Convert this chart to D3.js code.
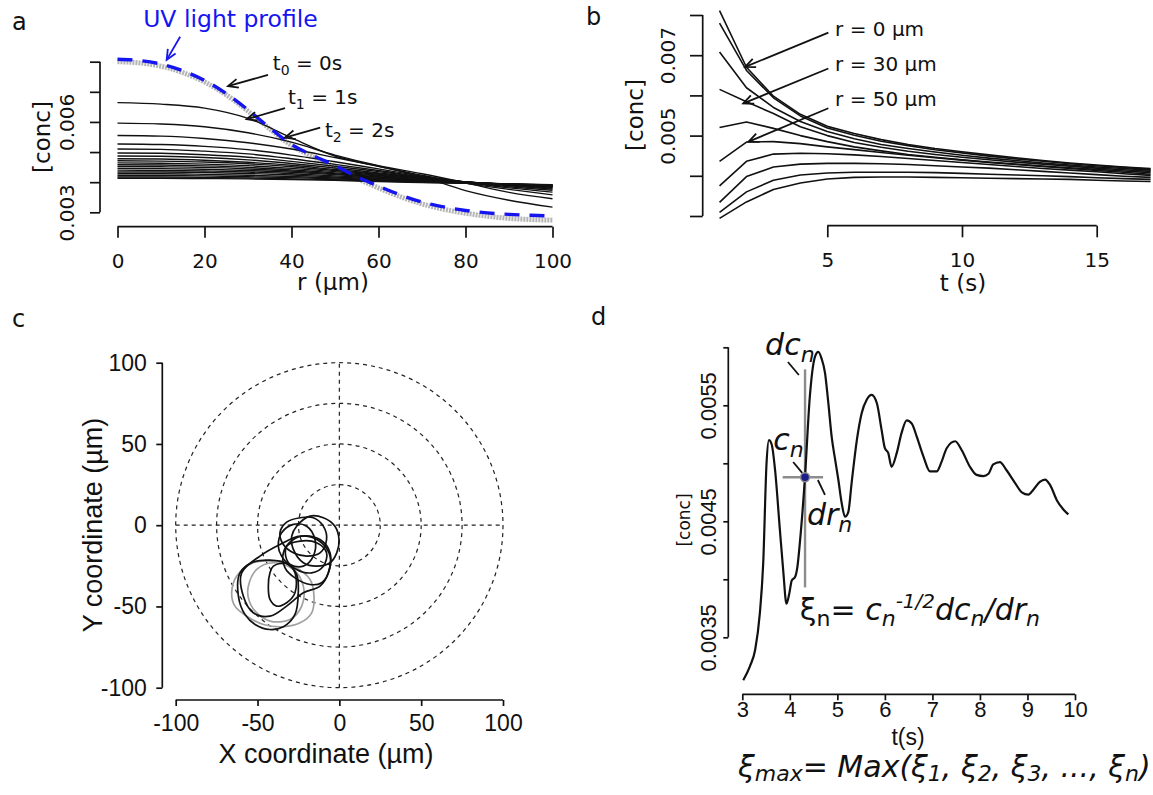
<!DOCTYPE html>
<html>
<head>
<meta charset="utf-8">
<script src="https://cdn.jsdelivr.net/npm/d3@7"></script>
<style>
  body { margin: 0; background: #fff; }
  svg { display: block; }
</style>
</head>
<body>
<div id="fig"></div>
<script>
// ---------- panel a : radial profiles ----------
var aRadiusFine = [0,5,10,15,20,25,30,35,40,45,50,55,60,65,70,75,80,85,90,95,100];
var aUvProfile = [0.00808,0.00804,0.00792,0.00770,0.00738,0.00694,0.00640,0.00580,0.00525,0.00488,0.00455,
                  0.00418,0.00387,0.00358,0.00334,0.00318,0.00306,0.00298,0.00293,0.00290,0.00288];
var aStartProfile = [0.00800,0.00796,0.00785,0.00764,0.00733,0.00690,0.00636,0.00577,0.00522,0.00484,0.00450,
                     0.00413,0.00381,0.00352,0.00328,0.00310,0.00297,0.00287,0.00280,0.00276,0.00274];
var aRadius = [0,10,20,30,40,50,60,70,80,90,100];
var aProfiles = [
  [0.00664,0.00659,0.00646,0.00612,0.00547,0.00487,0.00453,0.00418,0.00372,0.00340,0.00317],
  [0.00596,0.00593,0.00584,0.00564,0.00533,0.00490,0.00455,0.00428,0.00398,0.00366,0.00345],
  [0.00555,0.00553,0.00545,0.00531,0.00510,0.00482,0.00453,0.00423,0.00397,0.00376,0.00358],
  [0.00527,0.00525,0.00519,0.00508,0.00490,0.00468,0.00444,0.00420,0.00399,0.00381,0.00367],
  [0.00510,0.00509,0.00503,0.00494,0.00478,0.00459,0.00439,0.00418,0.00400,0.00385,0.00373],
  [0.00497,0.00496,0.00491,0.00483,0.00469,0.00453,0.00435,0.00417,0.00401,0.00388,0.00377],
  [0.00487,0.00486,0.00482,0.00474,0.00462,0.00447,0.00431,0.00415,0.00401,0.00390,0.00380],
  [0.00478,0.00477,0.00473,0.00466,0.00456,0.00442,0.00428,0.00414,0.00401,0.00391,0.00382],
  [0.00471,0.00470,0.00467,0.00461,0.00451,0.00439,0.00426,0.00413,0.00401,0.00392,0.00384],
  [0.00464,0.00463,0.00460,0.00455,0.00446,0.00435,0.00423,0.00411,0.00401,0.00392,0.00385],
  [0.00458,0.00457,0.00454,0.00449,0.00441,0.00431,0.00421,0.00410,0.00400,0.00392,0.00386],
  [0.00452,0.00451,0.00449,0.00444,0.00437,0.00428,0.00418,0.00408,0.00400,0.00393,0.00387],
  [0.00446,0.00445,0.00443,0.00439,0.00433,0.00425,0.00416,0.00407,0.00400,0.00393,0.00388],
  [0.00440,0.00439,0.00437,0.00434,0.00428,0.00421,0.00413,0.00406,0.00399,0.00394,0.00389],
  [0.00434,0.00434,0.00432,0.00429,0.00424,0.00417,0.00411,0.00404,0.00398,0.00393,0.00389],
  [0.00428,0.00428,0.00426,0.00423,0.00419,0.00414,0.00408,0.00403,0.00398,0.00393,0.00390],
  [0.00422,0.00422,0.00421,0.00418,0.00415,0.00411,0.00406,0.00401,0.00397,0.00394,0.00391],
  [0.00417,0.00417,0.00416,0.00414,0.00411,0.00408,0.00404,0.00400,0.00396,0.00393,0.00391],
  [0.00413,0.00413,0.00412,0.00411,0.00409,0.00406,0.00402,0.00399,0.00396,0.00394,0.00392]
];
var aXTicks = [0,20,40,60,80,100];
var aYTicks = [0.003,0.004,0.005,0.006,0.007,0.008];
var aYLabelled = [0.003,0.006];

// ---------- panel b : time courses ----------
var bTime = [1,2,3,4,5,6,7,8,9,10,11,12,13,14,15,16,17];
var bSeries = [
  [0.00811,0.00670,0.00598,0.00553,0.00523,0.00505,0.00490,0.00478,0.00468,0.00460,0.00452,0.00445,0.00438,0.00432,0.00427,0.00422,0.00418],
  [0.00780,0.00662,0.00594,0.00549,0.00519,0.00501,0.00486,0.00475,0.00465,0.00457,0.00449,0.00442,0.00436,0.00430,0.00425,0.00421,0.00416],
  [0.00708,0.00619,0.00570,0.00535,0.00510,0.00492,0.00478,0.00468,0.00459,0.00451,0.00444,0.00438,0.00432,0.00427,0.00422,0.00418,0.00414],
  [0.00615,0.00584,0.00555,0.00522,0.00500,0.00483,0.00471,0.00461,0.00453,0.00446,0.00440,0.00434,0.00429,0.00424,0.00419,0.00415,0.00411],
  [0.00520,0.00534,0.00518,0.00500,0.00485,0.00472,0.00462,0.00453,0.00446,0.00440,0.00434,0.00429,0.00424,0.00420,0.00416,0.00412,0.00408],
  [0.00436,0.00484,0.00485,0.00480,0.00472,0.00465,0.00458,0.00451,0.00445,0.00439,0.00433,0.00428,0.00423,0.00418,0.00413,0.00409,0.00404],
  [0.00375,0.00436,0.00454,0.00456,0.00455,0.00452,0.00448,0.00443,0.00438,0.00433,0.00428,0.00423,0.00418,0.00414,0.00410,0.00405,0.00401],
  [0.00334,0.00398,0.00422,0.00429,0.00431,0.00431,0.00430,0.00428,0.00425,0.00422,0.00419,0.00415,0.00411,0.00407,0.00403,0.00399,0.00396],
  [0.00309,0.00360,0.00389,0.00402,0.00407,0.00409,0.00409,0.00409,0.00408,0.00406,0.00404,0.00402,0.00400,0.00398,0.00395,0.00393,0.00391],
  [0.00294,0.00335,0.00366,0.00382,0.00392,0.00396,0.00397,0.00397,0.00396,0.00395,0.00394,0.00393,0.00392,0.00391,0.00389,0.00387,0.00386]
];
var bXTicks = [5,10,15];
var bYTicks = [0.003,0.004,0.005,0.006,0.007,0.008];
var bYLabelled = [0.005,0.007];

// ---------- panel c : trajectories (x, y in µm) ----------
var cLoopsBlack = [
  [[-60.7,-29.3],[-52.6,-22.7],[-42.4,-21.5],[-32.2,-23.5],[-26.1,-30.3],[-25.1,-41.6],[-27.1,-54.9],[-34.2,-62.5],[-42.4,-64.2],[-51.5,-61.1],[-57.7,-54.9],[-61.7,-43.6]],
  [[-40.3,-25.2],[-32.2,-23.5],[-27.1,-29.3],[-27.1,-41.6],[-32.2,-47.7],[-38.3,-49.8],[-42.4,-45.7],[-43.4,-37.5],[-42.4,-29.3]],
  [[-59.7,-29.3],[-48.5,-19.0],[-36.3,-11.9],[-24.0,-6.7],[-11.8,-8.8],[-5.7,-17.0],[-6.7,-29.3],[-11.8,-37.5],[-22.0,-41.6],[-32.2,-49.8],[-42.4,-56.0],[-52.6,-53.9],[-58.7,-43.6]],
  [[-36.3,-4.7],[-32.2,1.9],[-24.0,4.6],[-15.9,4.6],[-9.8,-0.6],[-7.8,-8.8],[-11.8,-17.0],[-20.0,-19.0],[-28.1,-17.0],[-34.2,-11.9]],
  [[-26.1,-0.6],[-17.9,5.6],[-9.8,4.6],[-2.7,-0.6],[-0.2,-8.8],[-1.6,-17.0],[-5.7,-23.1],[-13.9,-25.2],[-22.0,-23.1],[-28.1,-14.9],[-29.1,-6.7]],
  [[-34.2,-17.0],[-28.1,-8.8],[-20.0,-6.7],[-10.8,-10.8],[-5.7,-19.0],[-6.7,-29.3],[-10.8,-35.4],[-17.9,-36.5],[-27.1,-32.4],[-33.2,-26.2]],
  [[-32.2,-12.9],[-24.0,-9.8],[-13.9,-10.8],[-7.8,-17.0],[-9.8,-25.2],[-16.9,-29.3],[-26.1,-27.2],[-32.2,-21.1]],
  [[-37.3,-12.9],[-35.3,-4.7],[-28.1,0.5],[-20.0,-0.6],[-14.9,-8.8],[-15.9,-19.0],[-22.0,-25.2],[-30.2,-24.2],[-35.3,-19.0]]
];
var cLoopsGrey = [
  [[-65.8,-41.6],[-62.7,-31.3],[-52.6,-23.1],[-40.3,-22.1],[-28.1,-25.2],[-17.9,-33.4],[-15.5,-43.6],[-16.9,-53.9],[-24.0,-60.1],[-34.2,-62.5],[-46.4,-61.1],[-56.6,-56.0],[-63.8,-49.8]],
  [[-55.6,-37.5],[-50.5,-27.2],[-40.3,-23.1],[-28.1,-27.2],[-22.0,-37.5],[-23.0,-49.8],[-30.2,-58.0],[-42.4,-59.0],[-51.5,-52.9],[-55.6,-44.7]]
];
var cRings = [25,50,75,100];
var cTicks = [-100,-50,0,50,100];

// ---------- panel d : single trace ----------
var dTime = [3.02,3.16,3.27,3.37,3.44,3.51,3.56,3.62,3.69,3.79,3.86,3.93,3.99,4.04,4.11,4.16,4.21,4.32,4.42,4.53,
             4.60,4.67,4.74,4.81,4.88,4.95,5.02,5.09,5.16,5.23,5.30,5.41,5.51,5.62,5.72,5.83,5.93,6.00,6.07,6.14,
             6.25,6.35,6.46,6.57,6.67,6.81,6.95,7.09,7.19,7.30,7.48,7.62,7.79,7.93,8.07,8.18,8.28,8.42,8.56,8.74,
             8.88,9.02,9.12,9.26,9.37,9.48,9.62,9.76,9.86];
var dConc = [0.00313,0.00325,0.00339,0.00371,0.00414,0.00500,0.00520,0.00516,0.00494,0.00443,0.00408,0.00379,0.00388,0.00399,0.00402,0.00411,0.00431,0.00489,0.00557,0.00592,
             0.00596,0.00590,0.00578,0.00552,0.00523,0.00504,0.00486,0.00466,0.00454,0.00458,0.00483,0.00520,0.00543,0.00555,0.00559,0.00552,0.00529,0.00513,0.00509,0.00497,
             0.00509,0.00526,0.00537,0.00534,0.00523,0.00506,0.00493,0.00493,0.00501,0.00513,0.00519,0.00511,0.00497,0.00490,0.00489,0.00491,0.00499,0.00501,0.00494,0.00483,
             0.00475,0.00473,0.00477,0.00484,0.00486,0.00481,0.00468,0.00460,0.00456];
var dXTicks = [3,4,5,6,7,8,9,10];
var dYTicks = [0.0035,0.0040,0.0045,0.0050,0.0055,0.0060];
var dYLabelled = [0.0035,0.0045,0.0055];
var dPoint = [4.32, 0.00488];

var INK = '#111';
var SANS = 'DejaVu Sans';
var ARIAL = 'Liberation Sans';

var svg = d3.select('#fig').append('svg')
  .attr('width', 1153)
  .attr('height', 795)
  .style('background', '#ffffff');

function has(list, v) {
  return list.some(function(d) { return Math.abs(d - v) < 1e-9; });
}

// R-like axis: line only from first to last tick, outward ticks
function rAxis(sel, axis, scale, ticks, vertical) {
  sel.call(axis);
  sel.select('.domain').remove();
  var a = scale(ticks[0]), b = scale(ticks[ticks.length - 1]);
  sel.append('line')
    .attr('x1', vertical ? 0 : a).attr('x2', vertical ? 0 : b)
    .attr('y1', vertical ? a : 0).attr('y2', vertical ? b : 0);
  sel.selectAll('line').attr('stroke', INK).attr('stroke-width', 1.7);
  sel.selectAll('text').attr('fill', INK);
  return sel;
}

function rotateLabels(sel, offset) {
  sel.selectAll('.tick text')
    .attr('transform', 'rotate(-90)')
    .attr('x', 0).attr('y', -offset).attr('dy', 0)
    .attr('text-anchor', 'middle');
}

function arrow(g, x1, y1, x2, y2, color) {
  var ang = Math.atan2(y2 - y1, x2 - x1), L = 11, s = 0.42;
  g.append('line')
    .attr('x1', x1).attr('y1', y1).attr('x2', x2).attr('y2', y2)
    .attr('stroke', color).attr('stroke-width', 1.8);
  g.append('path')
    .attr('d', 'M' + (x2 - L * Math.cos(ang - s)) + ',' + (y2 - L * Math.sin(ang - s)) +
               'L' + x2 + ',' + y2 +
               'L' + (x2 - L * Math.cos(ang + s)) + ',' + (y2 - L * Math.sin(ang + s)))
    .attr('fill', 'none').attr('stroke', color).attr('stroke-width', 1.8);
}

function panelLetter(x, y, t) {
  svg.append('text').attr('x', x).attr('y', y)
    .style('font', '24px "' + SANS + '"').attr('fill', INK).text(t);
}

// ================= panel a =================
(function() {
  var x = d3.scaleLinear().domain([0, 100]).range([117.5, 552.5]);
  var y = d3.scaleLinear().domain([0.003, 0.008]).range([212.3, 61.7]);
  var g = svg.append('g');

  var line = d3.line().curve(d3.curveMonotoneX)
    .x(function(d) { return x(d[0]); })
    .y(function(d) { return y(d[1]); });

  g.append('path')
    .datum(aRadiusFine.map(function(r, i) { return [r, aStartProfile[i]]; }))
    .attr('d', line).attr('fill', 'none')
    .attr('stroke', '#b4b4b4').attr('stroke-width', 5)
    .attr('stroke-dasharray', '2,1');

  g.selectAll('.prof').data(aProfiles).enter().append('path')
    .attr('d', function(p) { return line(aRadius.map(function(r, i) { return [r, p[i]]; })); })
    .attr('fill', 'none').attr('stroke', INK).attr('stroke-width', 1.4);

  g.append('path')
    .datum(aRadiusFine.map(function(r, i) { return [r, aUvProfile[i]]; }))
    .attr('d', line).attr('fill', 'none')
    .attr('stroke', '#1515f0').attr('stroke-width', 3.4)
    .attr('stroke-dasharray', '15,10');

  var xa = g.append('g').attr('transform', 'translate(0,226.7)')
    .style('font', '20px "' + SANS + '"');
  rAxis(xa, d3.axisBottom(x).tickValues(aXTicks).tickSize(11).tickPadding(16), x, aXTicks, false);

  var ya = g.append('g').attr('transform', 'translate(100,0)')
    .style('font', '20px "' + SANS + '"');
  rAxis(ya, d3.axisLeft(y).tickValues(aYTicks).tickSize(10)
    .tickFormat(function(d) { return has(aYLabelled, d) ? d3.format('.3f')(d) : ''; }), y, aYTicks, true);
  rotateLabels(ya, 26);

  g.append('text').attr('transform', 'translate(50,137) rotate(-90)')
    .attr('text-anchor', 'middle').style('font', '23px "' + SANS + '"').attr('fill', INK).text('[conc]');
  g.append('text').attr('x', 333).attr('y', 290)
    .attr('text-anchor', 'middle').style('font', '23px "' + SANS + '"').attr('fill', INK).text('r (µm)');

  // UV annotation
  g.append('text').attr('x', x(5.9)).attr('y', y(0.00916))
    .style('font', '23.5px "' + SANS + '"').attr('fill', '#1515f0').text('UV light profile');
  arrow(g, x(14.4), y(0.00883), x(11.3), y(0.00806), '#1515f0');

  var notes = [
    { sub: '0', val: '0s', tx: 35.7, ty: 0.00772, from: [34.6, 0.00756], to: [25.4, 0.00719] },
    { sub: '1', val: '1s', tx: 39.2, ty: 0.00659, from: [38.5, 0.00646], to: [29.7, 0.00609] },
    { sub: '2', val: '2s', tx: 47.7, ty: 0.00550, from: [46.6, 0.00581], to: [38.5, 0.00548] }
  ];
  notes.forEach(function(n) {
    var t = g.append('text').attr('x', x(n.tx)).attr('y', y(n.ty))
      .style('font', '20px "' + SANS + '"').attr('fill', INK);
    t.append('tspan').text('t');
    t.append('tspan').attr('dy', 5).style('font-size', '14px').text(n.sub);
    t.append('tspan').attr('dy', -5).text(' = ' + n.val);
    arrow(g, x(n.from[0]), y(n.from[1]), x(n.to[0]), y(n.to[1]), INK);
  });

  panelLetter(12, 30, 'a');
})();

// ================= panel b =================
(function() {
  var x = d3.scaleLinear().domain([5, 15]).range([827.3, 1096.7]);
  var y = d3.scaleLinear().domain([0.003, 0.008]).range([216, 15]);
  var g = svg.append('g');

  var line = d3.line()
    .x(function(d) { return x(d[0]); })
    .y(function(d) { return y(d[1]); });

  g.selectAll('.ser').data(bSeries).enter().append('path')
    .attr('d', function(s) { return line(bTime.map(function(t, i) { return [t, s[i]]; })); })
    .attr('fill', 'none').attr('stroke', INK).attr('stroke-width', 1.6)
    .attr('stroke-linejoin', 'round');

  var xa = g.append('g').attr('transform', 'translate(0,225.7)')
    .style('font', '20px "' + SANS + '"');
  rAxis(xa, d3.axisBottom(x).tickValues(bXTicks).tickSize(11.6).tickPadding(15.5), x, bXTicks, false);

  var ya = g.append('g').attr('transform', 'translate(702.7,0)')
    .style('font', '20px "' + SANS + '"');
  rAxis(ya, d3.axisLeft(y).tickValues(bYTicks).tickSize(12.7)
    .tickFormat(function(d) { return has(bYLabelled, d) ? d3.format('.3f')(d) : ''; }), y, bYTicks, true);
  rotateLabels(ya, 28);

  g.append('text').attr('transform', 'translate(643,115) rotate(-90)')
    .attr('text-anchor', 'middle').style('font', '23px "' + SANS + '"').attr('fill', INK).text('[conc]');
  g.append('text').attr('x', 963).attr('y', 291)
    .attr('text-anchor', 'middle').style('font', '23px "' + SANS + '"').attr('fill', INK).text('t (s)');

  var notes = [
    { label: 'r = 0 µm',  ty: 0.00748, from: [5.04, 0.00756], to: [1.95, 0.00671] },
    { label: 'r = 30 µm', ty: 0.00661, from: [5.04, 0.00667], to: [1.88, 0.00580] },
    { label: 'r = 50 µm', ty: 0.00574, from: [5.04, 0.00568], to: [2.08, 0.00485] }
  ];
  notes.forEach(function(n) {
    g.append('text').attr('x', x(5.29)).attr('y', y(n.ty))
      .style('font', '20px "' + SANS + '"').attr('fill', INK).text(n.label);
    arrow(g, x(n.from[0]), y(n.from[1]), x(n.to[0]), y(n.to[1]), INK);
  });

  panelLetter(586, 25, 'b');
})();

// ================= panel c =================
(function() {
  var x = d3.scaleLinear().domain([-100, 100]).range([175.7, 503]);
  var y = d3.scaleLinear().domain([-100, 100]).range([687.7, 362.7]);
  var g = svg.append('g');

  g.selectAll('.ring').data(cRings).enter().append('ellipse')
    .attr('cx', x(0)).attr('cy', y(0))
    .attr('rx', function(r) { return x(r) - x(0); })
    .attr('ry', function(r) { return y(0) - y(r); })
    .attr('fill', 'none').attr('stroke', '#222').attr('stroke-width', 1.2)
    .attr('stroke-dasharray', '4,4');
  g.append('line').attr('x1', x(-100)).attr('x2', x(100)).attr('y1', y(0)).attr('y2', y(0))
    .attr('stroke', '#222').attr('stroke-width', 1.2).attr('stroke-dasharray', '4,4');
  g.append('line').attr('x1', x(0)).attr('x2', x(0)).attr('y1', y(-100)).attr('y2', y(100))
    .attr('stroke', '#222').attr('stroke-width', 1.2).attr('stroke-dasharray', '4,4');

  var loop = d3.line().curve(d3.curveCatmullRomClosed.alpha(0.5))
    .x(function(d) { return x(d[0]); })
    .y(function(d) { return y(d[1]); });

  g.selectAll('.grey').data(cLoopsGrey).enter().append('path')
    .attr('d', loop).attr('fill', 'none').attr('stroke', '#a0a0a0').attr('stroke-width', 1.7);
  g.selectAll('.black').data(cLoopsBlack).enter().append('path')
    .attr('d', loop).attr('fill', 'none').attr('stroke', INK).attr('stroke-width', 1.7);

  var plain = function(d) { return String(d); };
  var xa = g.append('g').attr('transform', 'translate(0,700)')
    .style('font', '23px "' + ARIAL + '"');
  rAxis(xa, d3.axisBottom(x).tickValues(cTicks).tickFormat(plain).tickSize(6).tickPadding(9), x, cTicks, false);

  var ya = g.append('g').attr('transform', 'translate(162.3,0)')
    .style('font', '23px "' + ARIAL + '"');
  rAxis(ya, d3.axisLeft(y).tickValues(cTicks).tickFormat(plain).tickSize(6).tickPadding(9.5), y, cTicks, true);

  g.append('text').attr('transform', 'translate(102,525) rotate(-90)')
    .attr('text-anchor', 'middle').style('font', '27px "' + ARIAL + '"').attr('fill', INK).text('Y coordinate (µm)');
  g.append('text').attr('x', 326).attr('y', 763)
    .attr('text-anchor', 'middle').style('font', '27px "' + ARIAL + '"').attr('fill', INK).text('X coordinate (µm)');

  panelLetter(12, 327, 'c');
})();

// ================= panel d =================
(function() {
  var x = d3.scaleLinear().domain([3, 10]).range([742.3, 1075]);
  var y = d3.scaleLinear().domain([0.0035, 0.006]).range([637.3, 347.3]);
  var g = svg.append('g');

  var line = d3.line().curve(d3.curveMonotoneX)
    .x(function(d) { return x(d[0]); })
    .y(function(d) { return y(d[1]); });

  // crosshair around c_n
  g.append('line').attr('x1', x(dPoint[0])).attr('x2', x(dPoint[0]))
    .attr('y1', y(0.00581)).attr('y2', y(0.00393))
    .attr('stroke', '#8c8c8c').attr('stroke-width', 2.4);
  g.append('line').attr('x1', x(3.85)).attr('x2', x(4.70))
    .attr('y1', y(dPoint[1])).attr('y2', y(dPoint[1]))
    .attr('stroke', '#8c8c8c').attr('stroke-width', 2.4);

  g.append('path')
    .datum(dTime.map(function(t, i) { return [t, dConc[i]]; }))
    .attr('d', line).attr('fill', 'none').attr('stroke', INK).attr('stroke-width', 2.2);

  g.append('circle').attr('cx', x(dPoint[0])).attr('cy', y(dPoint[1])).attr('r', 4.5)
    .attr('fill', '#1c1c8c').attr('stroke', '#8c8c8c').attr('stroke-width', 1.5);

  var xa = g.append('g').attr('transform', 'translate(0,694.3)')
    .style('font', '22px "' + ARIAL + '"');
  rAxis(xa, d3.axisBottom(x).tickValues(dXTicks).tickFormat(d3.format('d')).tickSize(6).tickPadding(1.5), x, dXTicks, false);

  var ya = g.append('g').attr('transform', 'translate(728.3,0)')
    .style('font', '22px "' + ARIAL + '"');
  rAxis(ya, d3.axisLeft(y).tickValues(dYTicks).tickSize(5)
    .tickFormat(function(d) { return has(dYLabelled, d) ? d3.format('.4f')(d) : ''; }), y, dYTicks, true);
  rotateLabels(ya, 12);

  g.append('text').attr('x', 908).attr('y', 745)
    .attr('text-anchor', 'middle').style('font', '23px "' + ARIAL + '"').attr('fill', INK).text('t(s)');
  g.append('text').attr('transform', 'translate(690,520) rotate(-90)')
    .attr('text-anchor', 'middle').style('font', '17px "' + SANS + '"').attr('fill', INK).text('[conc]');

  // labels dc_n, c_n, dr_n with their leaders
  function subLabel(tx, ty, main, sub) {
    var t = g.append('text').attr('x', x(tx)).attr('y', y(ty))
      .style('font', 'italic 30px "' + SANS + '"').attr('fill', INK);
    t.append('tspan').text(main);
    t.append('tspan').attr('dy', 7).style('font-size', '22px').text(sub);
  }
  subLabel(3.48, 0.005933, 'dc', 'n');
  subLabel(3.65, 0.005115, 'c', 'n');
  subLabel(4.36, 0.00447, 'dr', 'n');
  [[3.96, 0.005873, 4.19, 0.005761], [4.07, 0.005011, 4.26, 0.004917], [4.59, 0.004856, 4.74, 0.004727]]
    .forEach(function(l) {
      g.append('line').attr('x1', x(l[0])).attr('y1', y(l[1])).attr('x2', x(l[2])).attr('y2', y(l[3]))
        .attr('stroke', INK).attr('stroke-width', 1.8);
    });

  // xi_n formula
  var f1 = g.append('text').attr('x', x(4.21)).attr('y', y(0.00365))
    .style('font', '30px "' + SANS + '"').attr('fill', INK);
  f1.append('tspan').text('ξ');
  f1.append('tspan').attr('dy', 6).style('font-size', '22px').text('n');
  f1.append('tspan').attr('dy', -6).text('= ');
  f1.append('tspan').style('font-style', 'italic').text('c');
  f1.append('tspan').attr('dy', 6).style('font-style', 'italic').style('font-size', '22px').text('n');
  f1.append('tspan').attr('dy', -18).style('font-style', 'italic').style('font-size', '20px').text('-1/2');
  f1.append('tspan').attr('dy', 12).style('font-style', 'italic').text('dc');
  f1.append('tspan').attr('dy', 6).style('font-style', 'italic').style('font-size', '22px').text('n');
  f1.append('tspan').attr('dy', -6).style('font-style', 'italic').text('/dr');
  f1.append('tspan').attr('dy', 6).style('font-style', 'italic').style('font-size', '22px').text('n');

  // xi_max formula
  var f2 = g.append('text').attr('x', x(2.91)).attr('y', y(0.00230))
    .style('font', 'italic 30px "' + SANS + '"').attr('fill', INK);
  var parts = [['ξ', 'max'], ['= Max(ξ', '1'], [', ξ', '2'], [', ξ', '3'], [', ..., ξ', 'n'], [')', '']];
  var shift = 0;
  parts.forEach(function(p) {
    f2.append('tspan').attr('dy', -shift).text(p[0]);
    shift = 0;
    if (p[1]) {
      f2.append('tspan').attr('dy', 4).style('font-size', '22px').text(p[1]);
      shift = 4;
    }
  });

  panelLetter(591, 325, 'd');
})();
</script>
</body>
</html>
